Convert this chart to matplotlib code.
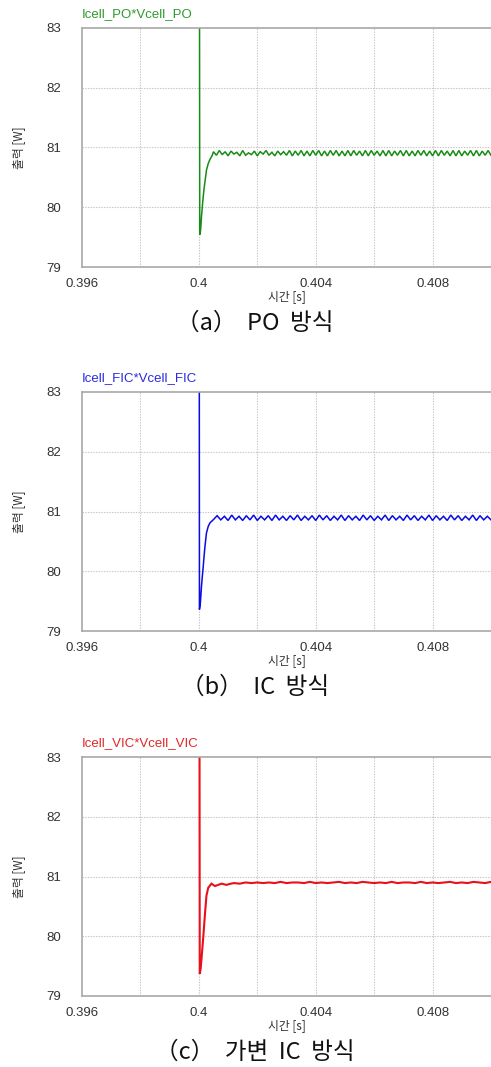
import numpy as np
import matplotlib
matplotlib.use("Agg")
import matplotlib.pyplot as plt

# ---- data (time in ms, power in W) ----
po_t_ms = [400.00, 400.03, 400.06, 400.09, 400.12, 400.15, 400.18, 400.21, 400.26,
           400.32, 400.38, 400.45,
           400.5, 400.6, 400.7, 400.8, 400.9, 401.0, 401.1, 401.2, 401.3, 401.4,
           401.5, 401.6, 401.7, 401.8, 401.9, 402.0, 402.1, 402.2, 402.3, 402.4,
           402.5, 402.6, 402.7, 402.8, 402.9, 403.0, 403.1, 403.2, 403.3, 403.4,
           403.5, 403.6, 403.7, 403.8, 403.9, 404.0, 404.1, 404.2, 404.3, 404.4,
           404.5, 404.6, 404.7, 404.8, 404.9, 405.0, 405.1, 405.2, 405.3, 405.4,
           405.5, 405.6, 405.7, 405.8, 405.9, 406.0, 406.1, 406.2, 406.3, 406.4,
           406.5, 406.6, 406.7, 406.8, 406.9, 407.0, 407.1, 407.2, 407.3, 407.4,
           407.5, 407.6, 407.7, 407.8, 407.9, 408.0, 408.1, 408.2, 408.3, 408.4,
           408.5, 408.6, 408.7, 408.8, 408.9, 409.0, 409.1, 409.2, 409.3, 409.4,
           409.5, 409.6, 409.7, 409.8, 409.9, 410.0]
po_p = [95.0, 79.54, 79.62, 79.84, 80.02, 80.18, 80.32, 80.43, 80.62,
        80.73, 80.80, 80.86,
        80.93, 80.87, 80.95, 80.88, 80.93, 80.86, 80.94, 80.89, 80.92, 80.86,
        80.95, 80.87, 80.91, 80.88, 80.94, 80.86, 80.93, 80.89, 80.95, 80.87,
        80.92, 80.86, 80.94, 80.88, 80.93, 80.87, 80.95, 80.86, 80.94, 80.87,
        80.95, 80.86, 80.94, 80.86, 80.95, 80.87, 80.95, 80.86, 80.94, 80.86,
        80.95, 80.87, 80.95, 80.86, 80.94, 80.86, 80.95, 80.86, 80.95, 80.87,
        80.94, 80.86, 80.95, 80.86, 80.95, 80.87, 80.94, 80.86, 80.95, 80.86,
        80.95, 80.86, 80.94, 80.87, 80.95, 80.86, 80.95, 80.86, 80.94, 80.86,
        80.95, 80.87, 80.95, 80.86, 80.94, 80.86, 80.95, 80.86, 80.95, 80.87,
        80.94, 80.86, 80.95, 80.86, 80.95, 80.86, 80.94, 80.87, 80.95, 80.86,
        80.95, 80.86, 80.94, 80.87, 80.95, 80.87]

ic_t_ms = [400.00, 400.02, 400.05, 400.09, 400.12, 400.15, 400.18, 400.21, 400.26,
           400.32, 400.38, 400.49,
           400.625, 400.750, 400.875, 401.000, 401.125, 401.250, 401.375, 401.500,
           401.625, 401.750, 401.875, 402.000, 402.125, 402.250, 402.375, 402.500,
           402.625, 402.750, 402.875, 403.000, 403.125, 403.250, 403.375, 403.500,
           403.625, 403.750, 403.875, 404.000, 404.125, 404.250, 404.375, 404.500,
           404.625, 404.750, 404.875, 405.000, 405.125, 405.250, 405.375, 405.500,
           405.625, 405.750, 405.875, 406.000, 406.125, 406.250, 406.375, 406.500,
           406.625, 406.750, 406.875, 407.000, 407.125, 407.250, 407.375, 407.500,
           407.625, 407.750, 407.875, 408.000, 408.125, 408.250, 408.375, 408.500,
           408.625, 408.750, 408.875, 409.000, 409.125, 409.250, 409.375, 409.500,
           409.625, 409.750, 409.875, 410.000]
ic_p = [95.0, 79.36, 79.46, 79.75, 79.92, 80.08, 80.26, 80.42, 80.64,
        80.75, 80.81, 80.86,
        80.93, 80.86, 80.92, 80.85, 80.94, 80.86, 80.92, 80.85,
        80.93, 80.86, 80.94, 80.85, 80.92, 80.86, 80.93, 80.85,
        80.94, 80.86, 80.92, 80.85, 80.93, 80.86, 80.94, 80.85,
        80.92, 80.86, 80.93, 80.85, 80.94, 80.86, 80.93, 80.85,
        80.92, 80.86, 80.94, 80.85, 80.93, 80.86, 80.92, 80.85,
        80.94, 80.86, 80.93, 80.85, 80.92, 80.86, 80.94, 80.85,
        80.93, 80.86, 80.92, 80.85, 80.94, 80.86, 80.93, 80.85,
        80.92, 80.86, 80.94, 80.85, 80.93, 80.86, 80.92, 80.85,
        80.94, 80.86, 80.93, 80.85, 80.92, 80.86, 80.94, 80.85,
        80.93, 80.86, 80.92, 80.86]

vic_t_ms = [400.00, 400.03, 400.06, 400.09, 400.12, 400.15, 400.18, 400.21, 400.26,
            400.32, 400.43,
            400.55, 400.66, 400.78, 400.94, 401.10, 401.20, 401.40, 401.60,
            401.80, 402.00, 402.20, 402.40, 402.60, 402.80, 403.00, 403.20,
            403.40, 403.60, 403.80, 404.00, 404.20, 404.40, 404.60, 404.80,
            405.00, 405.20, 405.40, 405.60, 405.80, 406.00, 406.20, 406.40,
            406.60, 406.80, 407.00, 407.20, 407.40, 407.60, 407.80, 408.00,
            408.20, 408.40, 408.60, 408.80, 409.00, 409.20, 409.40, 409.60,
            409.80, 410.00]
vic_p = [95.0, 79.37, 79.45, 79.62, 79.80, 79.98, 80.18, 80.38, 80.68,
         80.81, 80.88,
         80.84, 80.86, 80.88, 80.86, 80.88, 80.89, 80.88, 80.90,
         80.89, 80.90, 80.89, 80.90, 80.89, 80.91, 80.89, 80.90,
         80.90, 80.89, 80.91, 80.89, 80.90, 80.89, 80.90, 80.91,
         80.89, 80.90, 80.89, 80.91, 80.90, 80.89, 80.90, 80.89,
         80.91, 80.89, 80.90, 80.90, 80.89, 80.91, 80.89, 80.90,
         80.89, 80.90, 80.91, 80.89, 80.90, 80.89, 80.91, 80.90,
         80.89, 80.91]

series_labels = ["Icell_PO*Vcell_PO", "Icell_FIC*Vcell_FIC", "Icell_VIC*Vcell_VIC"]
captions = ["（a）  PO  방식", "（b）  IC  방식", "（c）  가변  IC  방식"]
line_colors = ["#168c16", "#0a0ae6", "#e8101a"]
text_colors = ["#2e9a2e", "#2a2ae0", "#e02828"]
line_widths = [1.1, 1.1, 1.5]

x_ticks = [0.396, 0.4, 0.404, 0.408]
x_tick_labels = ["0.396", "0.4", "0.404", "0.408"]
x_grid = [0.398, 0.4, 0.402, 0.404, 0.406, 0.408]
y_ticks = [79, 80, 81, 82, 83]

KR = ["Noto Sans CJK KR", "DejaVu Sans"]
W, H = 491, 1067

fig = plt.figure(figsize=(W / 100, H / 100), dpi=100)

traces = [(po_t_ms, po_p), (ic_t_ms, ic_p), (vic_t_ms, vic_p)]
tops = [28, 392, 757]
ax_h = 239
left = 82

for i, (t_ms, p) in enumerate(traces):
    top = tops[i]
    ax = fig.add_axes([left / W, 1 - (top + ax_h) / H, (W - left) / W, ax_h / H])
    t = np.array(t_ms) / 1000.0
    ax.plot(t, p, color=line_colors[i], lw=line_widths[i], solid_joinstyle="miter")
    ax.set_xlim(0.396, 0.41)
    ax.set_ylim(79, 83)

    for gx in x_grid:
        ax.axvline(gx, color="#c4c4c4", lw=0.8, ls=(0, (1.2, 1.2)), zorder=0)
    for gy in [80, 81, 82]:
        ax.axhline(gy, color="#c4c4c4", lw=0.8, ls=(0, (1.2, 1.2)), zorder=0)

    ax.set_xticks(x_ticks)
    ax.set_xticklabels(x_tick_labels)
    ax.set_yticks(y_ticks)
    ax.tick_params(length=0, labelsize=9.5, labelcolor="#333333")
    ax.tick_params(axis="x", pad=8)
    ax.tick_params(axis="y", pad=15)
    for lab in ax.get_xticklabels() + ax.get_yticklabels():
        lab.set_fontfamily("Liberation Sans")

    for s in ["left", "bottom", "top"]:
        ax.spines[s].set_color("#a8a8a8")
        ax.spines[s].set_linewidth(1.2)
    ax.spines["right"].set_visible(False)

    fig.text(left / W, 1 - (top - 14) / H, series_labels[i], color=text_colors[i],
             fontsize=9.5, family="Liberation Sans", ha="left", va="center")
    fig.text(19 / W, 1 - (top + ax_h / 2) / H, "출력 [W]", rotation=90,
             fontsize=8.5, family=KR, color="#333333", ha="center", va="center")
    fig.text(287 / W, 1 - (top + 269) / H, "시간 [s]",
             fontsize=8.5, family=KR, color="#333333", ha="center", va="center")
    fig.text(255 / W, 1 - (top + 295) / H, captions[i],
             fontsize=17, family=KR, color="#111111", ha="center", va="center")

fig.savefig("out.png", dpi=100)
